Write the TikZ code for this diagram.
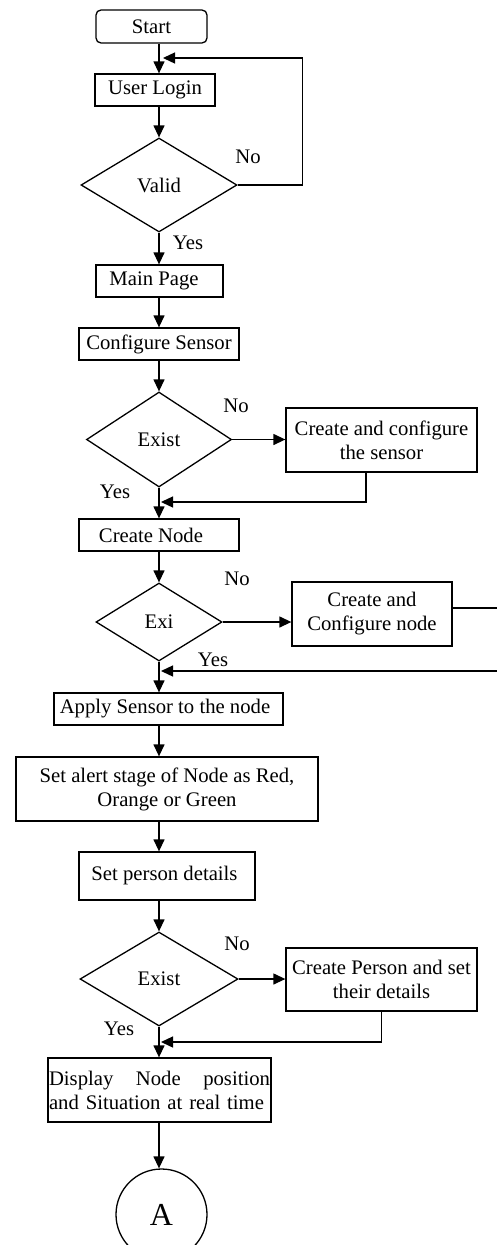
\documentclass[tikz,border=0pt]{standalone}
\usepackage{fontspec}
\setmainfont{Liberation Serif}
\usetikzlibrary{shapes.geometric,arrows.meta}
\begin{document}
\begin{tikzpicture}[x=1pt,y=-1pt,
  every node/.style={font=\fontsize{20.7}{24}\selectfont, inner sep=1pt},
  box/.style={draw, line width=1.3pt, rectangle, align=center},
  dec/.style={draw, diamond, line width=1.3pt, inner sep=0pt},
  arr/.style={line width=1.3pt, -{Triangle[length=12pt,width=11pt]}},
  lbl/.style={inner sep=0pt}]
\useasboundingbox (0,0) rectangle (497,1245);
\clip (0,0) rectangle (497,1245);

% nodes
\node[box, rounded corners=5pt, minimum width=111pt, minimum height=33pt] (start) at (151.5,26.5) {Start};
\node[box, minimum width=120pt, minimum height=32pt] (login) at (155,90) {User Login};
\node[dec, minimum width=156pt, minimum height=94pt] (valid) at (159,185) {Valid};
\node[box, minimum width=127pt, minimum height=32pt] (main) at (159.5,281) {Main Page\hspace{11pt}};
\node[box, minimum width=160pt, minimum height=32pt] (config) at (159,344) {Configure Sensor};
\node[dec, minimum width=145pt, minimum height=95pt] (exist1) at (159,439.5) {Exist};
\node[box, minimum width=191pt, minimum height=64pt] (cs) at (381.5,440) {Create and configure\\the sensor};
\node[box, minimum width=160pt, minimum height=32pt] (cnode) at (159,535) {Create Node\hspace{16pt}};
\node[dec, minimum width=126pt, minimum height=78pt] (exi) at (159,622) {Exi};
\node[box, minimum width=160pt, minimum height=64pt] (cn) at (372,614) {Create and\\Configure node};
\node[box, minimum width=229pt, minimum height=32pt] (apply) at (168.5,709) {Apply Sensor to the node\hspace{7pt}};
\node[box, minimum width=302pt, minimum height=64pt] (alert) at (167,789) {Set alert stage of Node as Red,\\Orange or Green};
\node[box, minimum width=176pt, minimum height=48pt] (person) at (167,876) {Set person details\hspace{5pt}};
\node[dec, minimum width=158pt, minimum height=94pt] (exist2) at (159,979) {Exist\hspace{10pt}};
\node[box, minimum width=191pt, minimum height=63pt] (cp) at (381.5,979.5) {Create Person and set\\their details};
\node[box, text width=221pt, align=left, inner xsep=0.5pt, minimum width=223pt, minimum height=64pt] (display) at (159.5,1090) {Display\hfill Node\hfill position\\and Situation at real time};
\node[draw, circle, line width=1.3pt, minimum size=91pt, inner sep=0pt, font=\fontsize{32}{36}\selectfont] (A) at (161.5,1214.5) {A};

% labels
\node[lbl] at (248,157) {No};
\node[lbl] at (188,243) {Yes};
\node[lbl] at (236,406) {No};
\node[lbl] at (115,492) {Yes};
\node[lbl] at (237,579) {No};
\node[lbl] at (213,660) {Yes};
\node[lbl] at (237,944) {No};
\node[lbl] at (119,1029) {Yes};

% join points
\coordinate (j1) at (163,58);
\coordinate (j2) at (161,502);
\coordinate (r3) at (510,640);
\coordinate (j3) at (161,671);
\coordinate (j4) at (161,1042);

% connectors
\draw[arr] (start.south -| valid) -- (login.north -| valid);
\draw[arr] (login.south -| valid) -- (valid.north);
\draw[arr] (valid.east) -- ++(65,0) |- (j1);
\draw[arr] (valid.south) -- (main.north -| valid);
\draw[arr] (main.south -| valid) -- (config.north -| valid);
\draw[arr] (config.south -| valid) -- (exist1.north);
\draw[arr] (exist1.east) -- (exist1.east -| cs.west);
\draw[arr] ([xshift=-15.5pt]cs.south) |- (j2);
\draw[arr] (exist1.south) -- (cnode.north -| valid);
\draw[arr] (cnode.south -| valid) -- (exi.north);
\draw[arr] (exi.east) -- (exi.east -| cn.west);
\draw[arr] ([yshift=6pt]cn.east) -| (r3) |- (j3);
\draw[arr] (exi.south) -- (apply.north -| valid);
\draw[arr] (apply.south -| valid) -- (alert.north -| valid);
\draw[arr] (alert.south -| valid) -- (person.north -| valid);
\draw[arr] (person.south -| valid) -- (exist2.north);
\draw[arr] (exist2.east) -- (exist2.east -| cp.west);
\draw[arr] (cp.south) |- (j4);
\draw[arr] (exist2.south) -- (display.north -| valid);
\draw[arr] (display.south -| valid) -- (A.north -| valid);
\end{tikzpicture}
\end{document}
